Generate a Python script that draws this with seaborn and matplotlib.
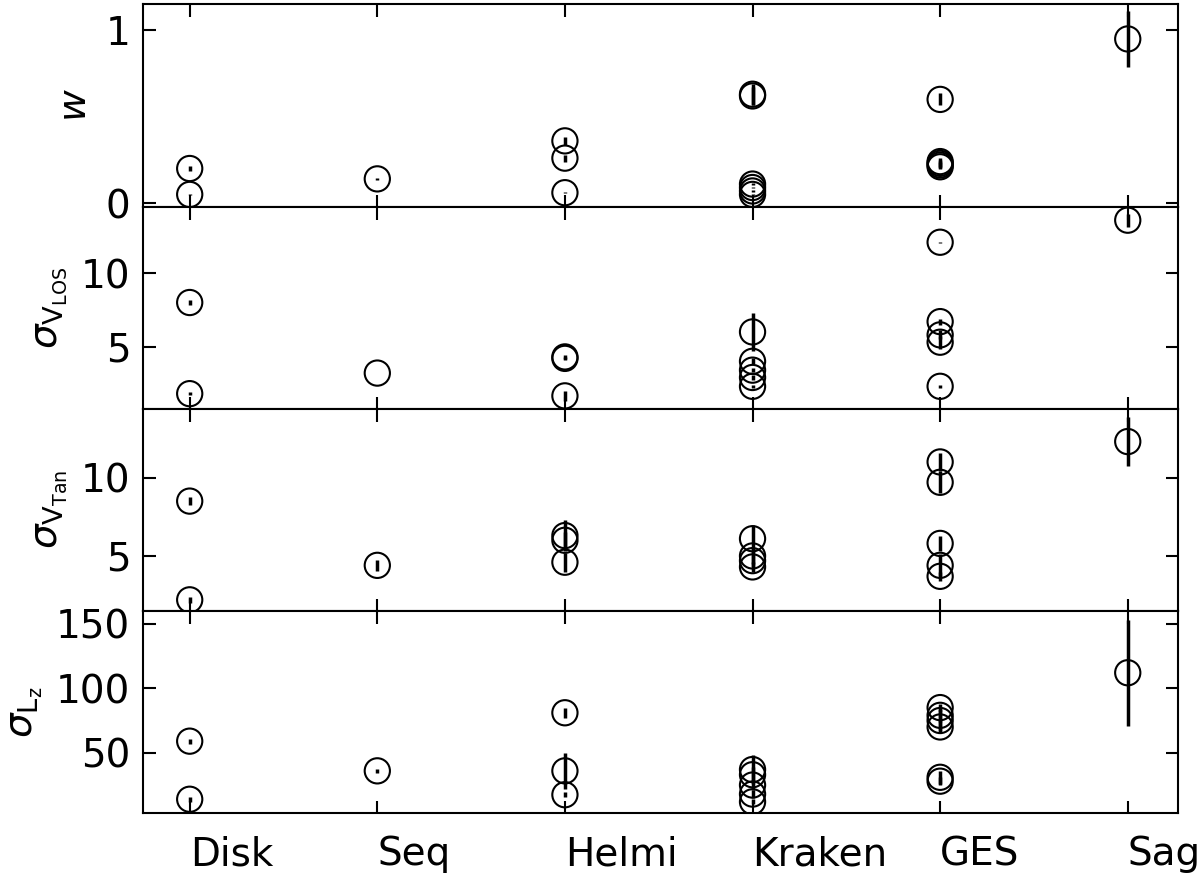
import numpy as np
import pandas as pd
import matplotlib
matplotlib.use("Agg")
import matplotlib.pyplot as plt
import seaborn as sns

# grupos no eixo x
grupos = ['Disk', 'Seq', 'Helmi', 'Kraken', 'GES', 'Sag']

# painel 1: w
w_grupo = ['Disk', 'Disk', 'Seq', 'Helmi', 'Helmi', 'Helmi',
           'Kraken', 'Kraken', 'Kraken', 'Kraken', 'Kraken', 'Kraken',
           'GES', 'GES', 'GES', 'GES', 'GES', 'Sag']
w_val = [0.20, 0.05, 0.14, 0.36, 0.26, 0.06,
         0.63, 0.62, 0.11, 0.09, 0.07, 0.05,
         0.60, 0.24, 0.23, 0.22, 0.21, 0.95]
w_err = [0.012, 0.004, 0.004, 0.025, 0.02, 0.004,
         0.06, 0.05, 0.005, 0.004, 0.005, 0.004,
         0.035, 0.02, 0.02, 0.015, 0.01, 0.16]

# painel 2: sigma V_LOS
vlos_grupo = ['Disk', 'Disk', 'Seq', 'Helmi', 'Helmi', 'Helmi',
              'Kraken', 'Kraken', 'Kraken', 'Kraken', 'Kraken',
              'GES', 'GES', 'GES', 'GES', 'GES', 'Sag']
vlos_val = [8.0, 1.8, 3.2, 4.3, 4.2, 1.65,
            6.0, 4.0, 3.4, 2.9, 2.3,
            12.1, 6.7, 5.8, 5.3, 2.3, 13.6]
vlos_err = [0.15, 0.1, 0.02, 0.15, 0.1, 0.35,
            1.3, 0.2, 0.15, 0.15, 0.1,
            0.02, 0.2, 0.3, 0.45, 0.1, 0.45]

# painel 3: sigma V_Tan
vtan_grupo = ['Disk', 'Disk', 'Seq', 'Helmi', 'Helmi', 'Helmi',
              'Kraken', 'Kraken', 'Kraken', 'Kraken',
              'GES', 'GES', 'GES', 'GES', 'GES', 'Sag']
vtan_val = [8.5, 2.2, 4.4, 6.3, 6.0, 4.6,
            6.1, 5.0, 4.7, 4.3,
            11.0, 9.7, 5.8, 4.4, 3.7, 12.3]
vtan_err = [0.25, 0.2, 0.35, 1.0, 0.5, 0.6,
            0.9, 0.5, 0.4, 0.3,
            0.6, 0.7, 0.5, 0.7, 0.3, 1.55]

# painel 4: sigma L_z
lz_grupo = ['Disk', 'Disk', 'Seq', 'Helmi', 'Helmi', 'Helmi',
            'Kraken', 'Kraken', 'Kraken', 'Kraken', 'Kraken',
            'GES', 'GES', 'GES', 'GES', 'GES', 'GES', 'Sag']
lz_val = [59, 14, 36, 81, 36, 17.5,
          37, 33, 25, 18, 12,
          85, 79, 75, 70, 31, 28, 112]
lz_err = [2, 2, 1.5, 4, 14, 2,
          11, 6, 4, 3, 2,
          3, 5, 8, 5, 5, 3, 41]

paineis = [
    (w_grupo, w_val, w_err, r'$w$', (-0.02, 1.15), [0, 1]),
    (vlos_grupo, vlos_val, vlos_err, r'$\sigma_{\rm V_{LOS}}$', (0.78, 14.53), [5, 10]),
    (vtan_grupo, vtan_val, vtan_err, r'$\sigma_{\rm V_{Tan}}$', (1.5, 14.4), [5, 10]),
    (lz_grupo, lz_val, lz_err, r'$\sigma_{\rm L_z}$', (3.4, 160), [50, 100, 150]),
]

sns.set_style('ticks')
plt.rcParams['font.family'] = ['DejaVu Sans']
plt.rcParams['mathtext.fontset'] = 'dejavusans'
plt.rcParams['text.color'] = 'black'
plt.rcParams['axes.labelcolor'] = 'black'
plt.rcParams['xtick.color'] = 'black'
plt.rcParams['ytick.color'] = 'black'

fig, axes = plt.subplots(4, 1, figsize=(12, 8.76), dpi=100, sharex=True)
fig.subplots_adjust(left=0.119, right=0.982, top=0.995, bottom=0.072, hspace=0)

for ax, (grp, val, err, rotulo, lim, ticks) in zip(axes, paineis):
    df = pd.DataFrame({'grupo': grp, 'valor': val, 'erro': err})
    df['x'] = [grupos.index(g) for g in df['grupo']]

    ax.errorbar(df['x'], df['valor'], yerr=df['erro'], fmt='none',
                ecolor='black', elinewidth=2.5, capsize=0, zorder=2)
    sns.scatterplot(data=df, x='x', y='valor', ax=ax, s=330,
                    facecolors='none', edgecolor='black', linewidth=1.5,
                    legend=False, zorder=3)

    ax.set_ylim(*lim)
    ax.set_yticks(ticks)
    ax.set_ylabel(rotulo, fontsize=28, labelpad=8)
    ax.set_xlabel('')
    ax.tick_params(direction='in', top=True, right=True, length=9, width=1.5,
                   labelsize=28)
    ax.tick_params(axis='y', pad=9)
    for sp in ax.spines.values():
        sp.set_linewidth(1.5)
        sp.set_color('black')

axes[-1].set_xlim(-0.25, 5.27)
axes[-1].set_xticks(range(len(grupos)))
axes[-1].set_xticklabels(grupos, ha='left', fontsize=28)
axes[-1].tick_params(axis='x', pad=16)

plt.savefig('out.png', dpi=100)
plt.close()
